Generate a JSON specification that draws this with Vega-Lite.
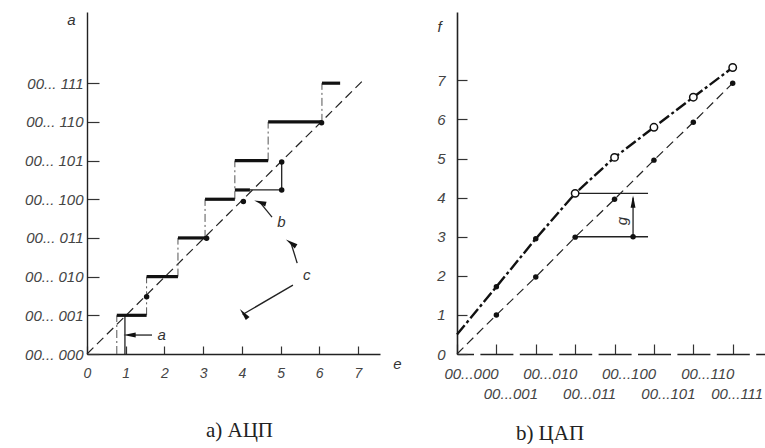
{
  "$schema": "https://vega.github.io/schema/vega-lite/v6.json",
  "background": "white",
  "padding": {"left": 24, "top": 12, "right": 0, "bottom": 0},
  "spacing": 77,
  "bounds": "flush",
  "config": {
    "view": {"stroke": null},
    "axis": {
      "grid": false, "domainColor": "#222", "tickColor": "#333", "tickWidth": 1.2,
      "labelFont": "Liberation Sans", "labelFontStyle": "italic", "labelColor": "#444", "labelFontSize": 14,
      "titleFont": "Liberation Sans", "titleFontStyle": "italic", "titleFontWeight": "normal", "titleColor": "#333",
      "titleFontSize": 15, "titleAngle": 0, "titleAlign": "center", "titleBaseline": "middle",
      "labelOverlap": false, "labelBound": false, "labelFlush": false
    }
  },
  "datasets": {
    "L_diag": [{"x": 0, "y": 0}, {"x": 7.1, "y": 7.04}],
    "L_steps": [
      {"x": 0.77, "x2": 1.54, "y": 1, "y2": 1},
      {"x": 1.54, "x2": 2.35, "y": 2, "y2": 2},
      {"x": 2.35, "x2": 3.09, "y": 3, "y2": 3},
      {"x": 3.05, "x2": 3.82, "y": 4, "y2": 4},
      {"x": 3.82, "x2": 4.21, "y": 4.24, "y2": 4.24},
      {"x": 3.82, "x2": 4.68, "y": 5, "y2": 5},
      {"x": 4.68, "x2": 6.07, "y": 6, "y2": 6},
      {"x": 6.07, "x2": 6.54, "y": 7, "y2": 7}
    ],
    "L_risers": [
      {"x": 0.77, "x2": 0.77, "y": 0, "y2": 1},
      {"x": 1.54, "x2": 1.54, "y": 1, "y2": 2},
      {"x": 2.35, "x2": 2.35, "y": 2, "y2": 3},
      {"x": 3.05, "x2": 3.05, "y": 3, "y2": 4},
      {"x": 3.82, "x2": 3.82, "y": 4, "y2": 5},
      {"x": 4.68, "x2": 4.68, "y": 5, "y2": 6},
      {"x": 6.07, "x2": 6.07, "y": 6, "y2": 7}
    ],
    "L_thin": [
      {"x": 0.98, "x2": 0.98, "y": 0, "y2": 1},
      {"x": 4.21, "x2": 5.03, "y": 4.24, "y2": 4.24},
      {"x": 5.03, "x2": 5.03, "y": 4.24, "y2": 4.96},
      {"x": 1.08, "x2": 1.68, "y": 0.49, "y2": 0.49},
      {"x": 4.47, "x2": 4.78, "y": 3.92, "y2": 3.54},
      {"x": 5.27, "x2": 5.43, "y": 2.87, "y2": 2.35},
      {"x": 4.02, "x2": 5.32, "y": 1.02, "y2": 1.78}
    ],
    "L_dots": [
      {"x": 1.54, "y": 1.48},
      {"x": 3.09, "y": 2.99},
      {"x": 4.04, "y": 3.94},
      {"x": 5.03, "y": 4.24},
      {"x": 5.03, "y": 4.96},
      {"x": 6.06, "y": 5.98}
    ],
    "L_heads": [
      {"x": 1.1, "y": 0.49, "dir": "left"},
      {"x": 4.47, "y": 3.92, "dir": "nw"},
      {"x": 5.27, "y": 2.87, "dir": "nnw"},
      {"x": 4.05, "y": 1.04, "dir": "sw"}
    ],
    "L_labels": [
      {"x": 1.93, "y": 0.49, "t": "a"},
      {"x": 5.02, "y": 3.42, "t": "b"},
      {"x": 5.68, "y": 2.04, "t": "c"}
    ],
    "R_low": [
      {"x": 0, "y": 0}, {"x": 1, "y": 1}, {"x": 2, "y": 1.97}, {"x": 3, "y": 2.99},
      {"x": 4, "y": 3.96}, {"x": 5, "y": 4.96}, {"x": 6, "y": 5.93}, {"x": 7, "y": 6.93}
    ],
    "R_up": [
      {"x": 0, "y": 0.5}, {"x": 1, "y": 1.72}, {"x": 2, "y": 2.95}, {"x": 3, "y": 4.11},
      {"x": 4, "y": 5.03}, {"x": 5, "y": 5.8}, {"x": 6, "y": 6.57}, {"x": 7, "y": 7.33}
    ],
    "R_thin": [
      {"x": 3, "x2": 4.85, "y": 4.11, "y2": 4.11},
      {"x": 3, "x2": 4.85, "y": 3, "y2": 3},
      {"x": 4.47, "x2": 4.47, "y": 3, "y2": 4.0}
    ],
    "R_dot": [{"x": 4.47, "y": 3}],
    "R_head": [{"x": 4.47, "y": 3.9, "dir": "up"}],
    "R_label": [{"x": 4.19, "y": 3.4, "t": "g"}]
  },
  "hconcat": [
    {
      "width": 293,
      "height": 342,
      "title": {"text": "a)  АЦП", "orient": "bottom", "anchor": "middle", "dx": 6, "offset": 40, "font": "Liberation Serif", "fontSize": 21, "fontWeight": "normal", "color": "#222"},
      "encoding": {
        "x": {"field": "x", "type": "quantitative", "scale": {"domain": [0, 7.57], "nice": false, "zero": false},
          "axis": {"values": [0, 1, 2, 3, 4, 5, 6, 7], "tickSize": -8, "labelPadding": 20, "domainWidth": 1.6, "title": "e", "titleX": 310, "titleY": 9}},
        "y": {"field": "y", "type": "quantitative", "scale": {"domain": [0, 8.84], "nice": false, "zero": false},
          "axis": {"values": [0, 1, 2, 3, 4, 5, 6, 7], "labelExpr": "'00... ' + ['000','001','010','011','100','101','110','111'][datum.value]", "labelFontSize": 15, "tickSize": -12, "labelPadding": 16, "domainWidth": 1.4, "title": "a", "titleX": -16, "titleY": 7}}
      },
      "layer": [
        {"data": {"name": "L_diag"}, "mark": {"type": "line", "color": "#222", "strokeWidth": 1.2, "strokeDash": [9, 5]}, "encoding": {}},
        {"data": {"name": "L_risers"}, "mark": {"type": "rule", "color": "#555", "strokeWidth": 1, "strokeDash": [8, 3, 2, 3]}, "encoding": {"x2": {"field": "x2"}, "y2": {"field": "y2"}}},
        {"data": {"name": "L_thin"}, "mark": {"type": "rule", "color": "#222", "strokeWidth": 1.3}, "encoding": {"x2": {"field": "x2"}, "y2": {"field": "y2"}}},
        {"data": {"name": "L_steps"}, "mark": {"type": "rule", "color": "#111", "strokeWidth": 3.2}, "encoding": {"x2": {"field": "x2"}, "y2": {"field": "y2"}}},
        {"data": {"name": "L_dots"}, "mark": {"type": "point", "filled": true, "color": "#111", "size": 30, "opacity": 1}, "encoding": {}},
        {"data": {"name": "L_heads"}, "mark": {"type": "point", "shape": "M0,-1L0.4,1L-0.4,1Z", "filled": true, "color": "#111", "size": 150, "opacity": 1},
          "encoding": {"angle": {"field": "dir", "type": "nominal", "scale": {"domain": ["left", "nw", "nnw", "sw"], "range": [270, 320, 343, 240]}, "legend": null}}},
        {"data": {"name": "L_labels"}, "mark": {"type": "text", "font": "Liberation Sans", "fontStyle": "italic", "fontSize": 15, "color": "#333"}, "encoding": {"text": {"field": "t"}}}
      ]
    },
    {
      "width": 308,
      "height": 342,
      "title": {"text": "b)  ЦАП", "orient": "bottom", "anchor": "middle", "dx": -61, "offset": 22, "font": "Liberation Serif", "fontSize": 21, "fontWeight": "normal", "color": "#222"},
      "encoding": {
        "x": {"field": "x", "type": "quantitative", "scale": {"domain": [0, 7.82], "nice": false, "zero": false},
          "axis": {"values": [0, 1, 2, 3, 4, 5, 6, 7], "labelExpr": "datum.value % 2 == 0 ? '00...' + ['000','001','010','011','100','101','110','111'][datum.value] : ['', '00...' + ['000','001','010','011','100','101','110','111'][datum.value]]", "tickSize": -10, "labelPadding": 22,
            "labelOffset": {"condition": {"test": "datum.value == 7", "value": 30}, "value": 14},
            "labelAlign": {"condition": {"test": "datum.value == 7", "value": "right"}, "value": "center"},
            "labelLineHeight": 20, "labelFontSize": 15, "domainDash": [33, 6.4], "domainDashOffset": 16.5, "domainWidth": 1.6, "title": null}},
        "y": {"field": "y", "type": "quantitative", "scale": {"domain": [0, 8.75], "nice": false, "zero": false},
          "axis": {"values": [0, 1, 2, 3, 4, 5, 6, 7], "tickSize": -10, "labelPadding": 22, "labelFontSize": 15, "domainWidth": 1.6, "title": "f", "titleX": -18, "titleY": 14}}
      },
      "layer": [
        {"data": {"name": "R_low"}, "mark": {"type": "line", "color": "#222", "strokeWidth": 1.2, "strokeDash": [9, 5]}, "encoding": {}},
        {"data": {"name": "R_up"}, "mark": {"type": "line", "color": "#111", "strokeWidth": 2.4, "strokeDash": [12, 3, 3, 3]}, "encoding": {}},
        {"data": {"name": "R_thin"}, "mark": {"type": "rule", "color": "#222", "strokeWidth": 1.3}, "encoding": {"x2": {"field": "x2"}, "y2": {"field": "y2"}}},
        {"data": {"name": "R_low"}, "transform": [{"filter": "datum.x >= 1"}], "mark": {"type": "point", "filled": true, "color": "#111", "size": 30, "opacity": 1}, "encoding": {}},
        {"data": {"name": "R_up"}, "transform": [{"filter": "datum.x >= 1 && datum.x <= 2"}], "mark": {"type": "point", "filled": true, "color": "#111", "size": 30, "opacity": 1}, "encoding": {}},
        {"data": {"name": "R_up"}, "transform": [{"filter": "datum.x >= 3"}], "mark": {"type": "point", "filled": true, "fill": "white", "stroke": "#111", "strokeWidth": 1.5, "size": 55, "opacity": 1}, "encoding": {}},
        {"data": {"name": "R_dot"}, "mark": {"type": "point", "filled": true, "color": "#111", "size": 30, "opacity": 1}, "encoding": {}},
        {"data": {"name": "R_head"}, "mark": {"type": "point", "shape": "M0,-1L0.4,1L-0.4,1Z", "filled": true, "color": "#111", "size": 150, "opacity": 1, "angle": 0}, "encoding": {}},
        {"data": {"name": "R_label"}, "mark": {"type": "text", "font": "Liberation Sans", "fontStyle": "italic", "fontSize": 15, "color": "#333", "angle": 270}, "encoding": {"text": {"field": "t"}}}
      ]
    }
  ]
}
